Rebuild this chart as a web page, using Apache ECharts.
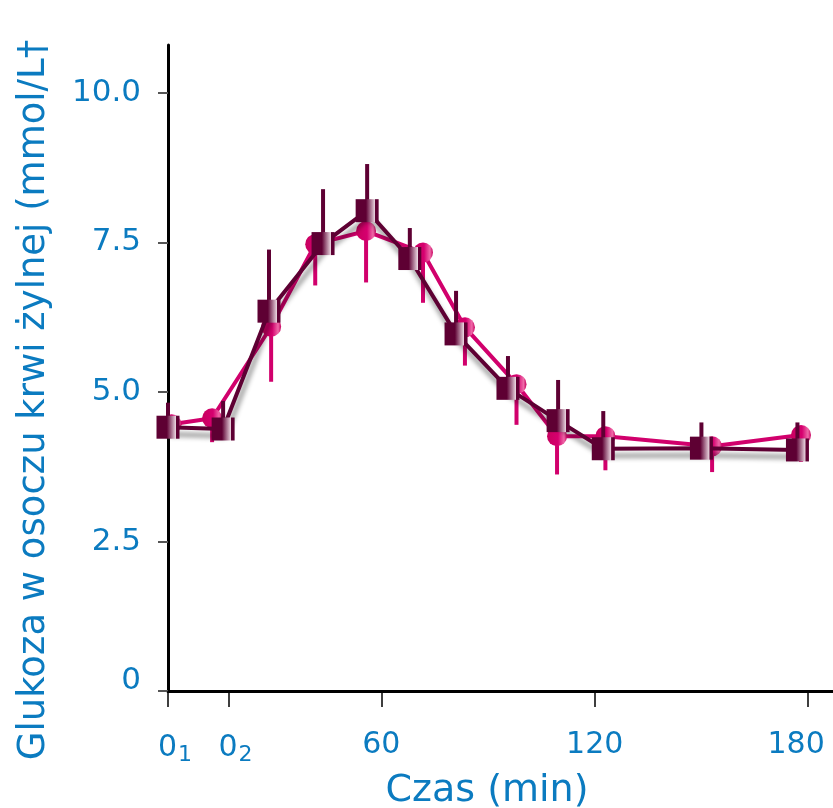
<!DOCTYPE html>
<html lang="pl">
<head>
<meta charset="utf-8" />
<title>Glukoza w osoczu krwi żylnej</title>
<style>
  * { margin: 0; padding: 0; box-sizing: border-box; }
  html, body { width: 100%; height: 100%; background: #fff; }
  #chart { width: 833px; height: 808px; }
</style>
</head>
<body>
<div id="chart"></div>
<script src="https://cdn.jsdelivr.net/npm/echarts@6/dist/echarts.min.js"></script>
<script>
// osie
const xTicks = [0, 17, 60, 120, 180]
const xTickLabels = ['{sp| }0{sub|1}', '{sp| }0{sub|2}', '60', '120', '{end|180}']
const yTicks = [0, 2.5, 5, 7.5, 10]

// seria z kwadratami (bordowa) – słupki błędu w górę
const squareX = [0, 15.5, 28.4, 43.6, 56, 68, 81, 95.6, 109.7, 122.4, 150, 177]
const squareY = [4.41, 4.38, 6.35, 7.48, 8.03, 7.23, 5.97, 5.06, 4.52, 4.05, 4.06, 4.03]
const squareErrTop = [4.82, 4.85, 7.38, 8.39, 8.81, 7.74, 6.69, 5.6, 5.2, 4.68, 4.49, 4.49]

// seria z kołami (purpurowa) – słupki błędu w dół
const circleX = [1, 12.4, 29, 41.4, 55.7, 71.7, 83.5, 98, 109.4, 123, 153, 178]
const circleY = [4.46, 4.56, 6.09, 7.47, 7.69, 7.33, 6.08, 5.13, 4.26, 4.26, 4.09, 4.28]
const circleErrLow = [4.3, 4.16, 5.17, 6.78, 6.83, 6.49, 5.44, 4.45, 3.62, 3.69, 3.66, 3.83]

const blue = '#0b7bc0'
const dark = '#5e0033'
const magenta = '#d1006c'
const font = 'DejaVu Sans'

function errorBars(xs, ys, ends, color, z) {
    return {
        type: 'custom',
        z: z,
        silent: true,
        data: xs.map((x, i) => [x, ys[i], ends[i]]),
        encode: { x: 0, y: [1, 2] },
        renderItem: (params, api) => {
            const a = api.coord([api.value(0), api.value(1)])
            const b = api.coord([api.value(0), api.value(2)])
            return {
                type: 'line',
                shape: { x1: a[0], y1: a[1], x2: b[0], y2: b[1] },
                style: { stroke: color, lineWidth: 4 },
            }
        },
    }
}

const chart = echarts.init(document.getElementById('chart'))
chart.setOption({
    animation: false,
    grid: { left: 168, right: 0, top: 45, bottom: 117, containLabel: false, outerBoundsMode: 'none' },
    xAxis: {
        type: 'value',
        min: 0,
        max: 187,
        axisLine: { lineStyle: { color: '#000', width: 3 } },
        axisTick: { customValues: xTicks, length: 16, lineStyle: { color: '#000', width: 1.5 } },
        axisLabel: {
            customValues: xTicks,
            formatter: (v) => xTickLabels[xTicks.indexOf(v)],
            margin: 39,
            color: blue,
            fontSize: 30,
            fontFamily: font,
            rich: {
                sp: { width: 14, fontSize: 22 },
                sub: { fontSize: 22, color: blue, fontFamily: font, padding: [14, 0, 0, 1] },
                end: { fontSize: 30, color: blue, fontFamily: font, padding: [0, 24, 0, 0] },
            },
        },
        splitLine: { show: false },
        name: 'Czas (min)',
        nameLocation: 'middle',
        nameGap: 81,
        nameTextStyle: { color: blue, fontSize: 38, fontFamily: font, padding: [0, 27, 0, 0] },
    },
    yAxis: {
        type: 'value',
        min: 0,
        max: 10.8,
        axisLine: { show: true, lineStyle: { color: '#000', width: 3 } },
        axisTick: { show: true, customValues: yTicks, length: 10, lineStyle: { color: '#555', width: 2 } },
        axisLabel: {
            customValues: yTicks,
            formatter: (v) => (v === 0 ? '{z|0}' : v.toFixed(1)),
            margin: 27,
            color: blue,
            fontSize: 31,
            fontFamily: font,
            rich: { z: { fontSize: 31, color: blue, fontFamily: font, padding: [0, 0, 20, 0] } },
        },
        splitLine: { show: false },
        name: 'Glukoza w osoczu krwi żylnej (mmol/L†',
        nameLocation: 'middle',
        nameRotate: 90,
        nameGap: 115,
        nameTextStyle: { color: blue, fontSize: 37, fontFamily: font, padding: [0, 64, 0, 0] },
    },
    series: [
        errorBars(circleX, circleY, circleErrLow, magenta, 1),
        {
            type: 'line',
            z: 2,
            data: circleX.map((x, i) => [x, circleY[i]]),
            symbol: 'circle',
            symbolSize: 20,
            lineStyle: { color: magenta, width: 4 },
            itemStyle: {
                color: new echarts.graphic.LinearGradient(0, 0, 1, 0, [
                    { offset: 0, color: '#c8005f' },
                    { offset: 0.55, color: '#d6006f' },
                    { offset: 0.85, color: '#ee6aa8' },
                    { offset: 1, color: '#c8005f' },
                ]),
            },
        },
        errorBars(squareX, squareY, squareErrTop, dark, 3),
        {
            type: 'line',
            z: 4,
            data: squareX.map((x, i) => [x, squareY[i]]),
            symbol: 'rect',
            symbolSize: 23,
            lineStyle: {
                color: dark,
                width: 4,
                shadowColor: 'rgba(0,0,0,0.45)',
                shadowBlur: 5,
                shadowOffsetX: 2,
                shadowOffsetY: 7,
            },
            itemStyle: {
                color: new echarts.graphic.LinearGradient(0, 0, 1, 0, [
                    { offset: 0, color: dark },
                    { offset: 0.45, color: dark },
                    { offset: 0.84, color: '#ead6e0' },
                    { offset: 0.86, color: dark },
                    { offset: 1, color: dark },
                ]),
            },
        },
    ],
})
</script>
</body>
</html>
